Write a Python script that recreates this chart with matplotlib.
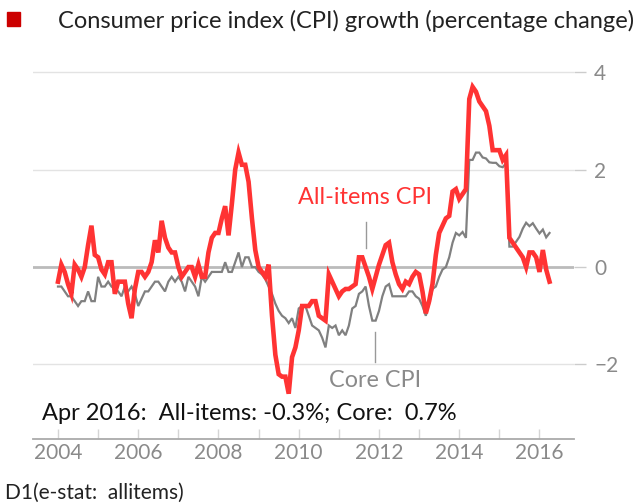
import matplotlib
matplotlib.use("Agg")
import matplotlib.pyplot as plt
import numpy as np
import pandas as pd

plt.rcParams['font.family'] = ['Lato', 'DejaVu Sans']

# ---------------- data (monthly, Jan 2004 - Apr 2016) ----------------
start = "2004-01-01"
end = "2016-04-01"

all_items = [
    # 2004
    -0.3, 0.05, -0.1, -0.35, -0.55, 0.05, -0.05, -0.2, 0.0, 0.45, 0.85, 0.25,
    # 2005
    0.2, -0.05, -0.15, 0.1, 0.1, -0.55, -0.3, -0.3, -0.3, -0.75, -1.05, -0.45,
    # 2006
    -0.1, -0.1, -0.2, -0.1, 0.1, 0.55, 0.3, 0.95, 0.6, 0.4, 0.3, 0.3,
    # 2007
    0.0, -0.2, -0.1, 0.0, 0.0, -0.2, 0.05, -0.2, -0.2, 0.3, 0.6, 0.7,
    # 2008
    0.7, 1.0, 1.25, 0.65, 1.3, 2.0, 2.35, 2.1, 2.1, 1.75, 1.0, 0.35,
    # 2009
    0.0, -0.1, -0.2, 0.05, -1.0, -1.8, -2.2, -2.25, -2.25, -2.6, -1.85, -1.65,
    # 2010
    -1.3, -0.8, -0.8, -0.8, -0.7, -0.7, -1.0, -1.05, -1.1, -0.15, -0.3, -0.45,
    # 2011
    -0.6, -0.5, -0.45, -0.45, -0.4, -0.35, 0.2, 0.2, 0.0, -0.2, -0.45, -0.2,
    # 2012
    0.05, 0.25, 0.45, 0.5, 0.1, -0.15, -0.35, -0.45, -0.3, -0.35, -0.2, -0.1,
    # 2013
    -0.15, -0.5, -0.95, -0.7, -0.35, 0.25, 0.7, 0.85, 1.0, 1.05, 1.55, 1.6,
    # 2014
    1.4, 1.5, 1.6, 3.45, 3.7, 3.6, 3.4, 3.3, 3.2, 2.9, 2.4, 2.4,
    # 2015
    2.4, 2.2, 2.3, 0.6, 0.5, 0.4, 0.3, 0.2, 0.0, 0.3, 0.3, 0.2,
    # 2016
    -0.1, 0.35, -0.05, -0.3,
]

core = [
    # 2004
    -0.4, -0.4, -0.5, -0.6, -0.6, -0.7, -0.8, -0.7, -0.7, -0.5, -0.7, -0.7,
    # 2005
    -0.2, -0.4, -0.4, -0.3, -0.4, -0.45, -0.5, -0.6, -0.4, -0.5, -0.4, -0.55,
    # 2006
    -0.8, -0.65, -0.5, -0.5, -0.4, -0.3, -0.3, -0.4, -0.5, -0.3, -0.2, -0.3,
    # 2007
    -0.2, -0.3, -0.5, -0.2, -0.3, -0.4, -0.6, -0.2, -0.3, -0.2, -0.1, -0.1,
    # 2008
    -0.1, -0.1, 0.1, -0.1, -0.1, 0.1, 0.3, 0.0, 0.2, 0.2, 0.0, 0.0,
    # 2009
    -0.1, -0.15, -0.25, -0.4, -0.55, -0.75, -0.9, -1.0, -1.05, -1.15, -1.05, -1.25,
    # 2010
    -0.85, -0.8, -0.8, -1.0, -1.2, -1.25, -1.3, -1.45, -1.65, -1.2, -1.25, -1.2,
    # 2011
    -1.4, -1.3, -1.4, -1.2, -0.85, -0.8, -0.55, -0.5, -0.4, -0.8, -1.1, -1.1,
    # 2012
    -0.9, -0.6, -0.4, -0.35, -0.6, -0.6, -0.6, -0.6, -0.6, -0.5, -0.5, -0.6,
    # 2013
    -0.65, -0.8, -1.0, -0.75, -0.45, -0.4, -0.2, -0.05, 0.0, 0.2, 0.5, 0.7,
    # 2014
    0.65, 0.72, 0.6, 2.2, 2.2, 2.35, 2.35, 2.25, 2.23, 2.15, 2.14, 2.14,
    # 2015
    2.07, 2.05, 2.13, 0.42, 0.42, 0.52, 0.62, 0.79, 0.91, 0.84, 0.9, 0.79,
    # 2016
    0.69, 0.77, 0.61, 0.7,
]

y_ticks = [-2, 0, 2, 4]
y_ticklabels = ["\u22122", "0", "2", "4"]
x_label_years = [2004, 2006, 2008, 2010, 2012, 2014, 2016]

title = "Consumer price index (CPI) growth (percentage change)"
summary = "Apr 2016:  All-items: -0.3%; Core:  0.7%"
source = "D1(e-stat:  allitems)"

# ---------------- figure ----------------
dates = pd.date_range(start, end, freq="MS")
x = dates.year + (dates.month - 1) / 12.0

W, H = 638, 503
fig = plt.figure(figsize=(W / 100, H / 100), dpi=100)
ax = fig.add_axes([33 / W, 64 / H, 541 / W, 396 / H])

red = "#ff3333"
grey_line = "#808080"
label_grey = "#8a8a8a"

for yv in y_ticks:
    if yv == 0:
        ax.axhline(yv, color="#bbbbbb", lw=2.0, zorder=1)
    else:
        ax.axhline(yv, color="#e3e3e3", lw=1.0, zorder=1)

ax.plot(x, core, color=grey_line, lw=1.6, zorder=3, solid_joinstyle="miter")
ax.plot(x, all_items, color=red, lw=3.3, zorder=4, solid_joinstyle="miter")

ax.set_xlim(2003.377, 2016.86)
ax.set_ylim(-3.53, 4.6)

for s in ["top", "left", "right"]:
    ax.spines[s].set_visible(False)
ax.spines["bottom"].set_color("#aaaaaa")
ax.spines["bottom"].set_linewidth(1.3)

ax.yaxis.tick_right()
ax.set_yticks(y_ticks)
ax.set_yticklabels(y_ticklabels)
ax.tick_params(axis="y", direction="out", length=8.5, width=1.0, color="#cccccc",
               labelcolor=label_grey, labelsize=15, pad=6)

years = np.arange(2004, 2017)
ax.set_xticks(years)
ax.set_xticklabels([str(y) if y in x_label_years else "" for y in years])
ax.tick_params(axis="x", direction="in", length=7.2, width=1.0, color="#d5d5d5",
               labelcolor=label_grey, labelsize=15, pad=3)

# annotations
ax.text(2011.65, 1.42, "All-items CPI", color=red, fontsize=16.8, ha="center", va="center")
ax.plot([2011.676, 2011.676], [0.39, 0.92], color="#999999", lw=1.0, zorder=2)
ax.text(2011.9, -2.33, "Core CPI", color="#8a8a8a", fontsize=16.8, ha="center", va="center")
ax.plot([2011.9, 2011.9], [-1.95, -1.33], color="#999999", lw=1.0, zorder=2)

# title + square
fig.patches.append(plt.Rectangle((7 / W, 1 - 26 / H), 13 / W, 14 / H,
                                 transform=fig.transFigure, color="#cc0000"))
fig.text(58 / W, 1 - 21 / H, title, fontsize=17, color="#222222", va="center", ha="left")

fig.text(42 / W, 1 - 413 / H, summary, fontsize=17, color="#111111", va="center", ha="left")
fig.text(5 / W, 1 - 493 / H, source, fontsize=15, color="#222222", va="center", ha="left")

fig.savefig("out.png", dpi=100)
